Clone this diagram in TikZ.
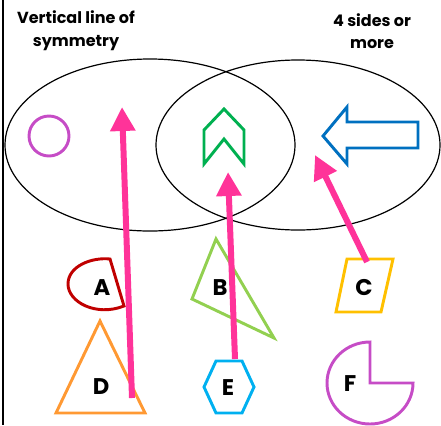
\documentclass[tikz,border=0pt]{standalone}
\usepackage{fontspec}
\usetikzlibrary{arrows.meta}
\newfontfamily\gothic{Poppins}
\definecolor{hotpink}{HTML}{FF3399}
\definecolor{violetF}{HTML}{C64CC6}
\definecolor{chevgreen}{HTML}{00B050}
\definecolor{arrblue}{HTML}{0070C0}
\definecolor{darkred}{HTML}{C00000}
\definecolor{lightgreen}{HTML}{92D050}
\definecolor{gold}{HTML}{FFC000}
\definecolor{orangeD}{HTML}{FF9933}
\definecolor{skyblue}{HTML}{00B0F0}
\begin{document}
\begin{tikzpicture}[x=0.75pt, y=-0.75pt,
  heading/.style={align=center, font=\gothic\bfseries\fontsize{12}{17}\selectfont},
  letter/.style={font=\gothic\bfseries\fontsize{17}{17}\selectfont},
  outline/.style={line width=2.2pt, line join=miter},
  pinkarrow/.style={hotpink, line width=4.5pt, -{Triangle[length=18pt, width=18pt]}}]

  \useasboundingbox (0,0) rectangle (441,425);
  \draw[line width=1.5pt] (3,0) -- (3,425);

  % the two sets
  \draw[line width=0.9pt] (150,145) ellipse [x radius=145, y radius=86];
  \draw[line width=0.9pt] (298,145) ellipse [x radius=142, y radius=85];

  \node[heading] (left) at (76,31) {Vertical line of\\symmetry};
  \node[heading] (right) at (372,31) {4 sides or\\more};

  % shapes already placed
  \draw[outline, violetF] (49,136) circle [radius=20];
  \draw[outline, chevgreen] (224,109) -- (244,130) -- (244,164) -- (224,139)
    -- (204,164) -- (204,130) -- cycle;
  \draw[outline, arrblue] (323,136) -- (347,107) -- (347,122) -- (418,122)
    -- (418,148) -- (347,148) -- (347,164) -- cycle;

  % shapes to sort
  \draw[outline, darkred] (110,259) -- (124,306)
    .. controls (96,317) and (68,302) .. (68,284)
    .. controls (68,266) and (92,257) .. cycle;
  \node[letter] (A) at (102,288) {A};

  \draw[outline, lightgreen] (216,239) -- (274,338) -- (192,299) -- cycle;
  \node[letter] (B) at (220,288) {B};

  \draw[outline, gold] (347,259) -- (393,259) -- (381,312) -- (336,312) -- cycle;
  \node[letter] (C) at (364,288) {C};

  \draw[outline, orangeD] (100,321) -- (145,413) -- (56,413) -- cycle;
  \node[letter] (D) at (101,387) {D};

  \draw[outline, skyblue] (204,387) -- (216,361) -- (242,361) -- (254,387)
    -- (242,413) -- (216,413) -- cycle;
  \node[letter] (E) at (228,388) {E};

  \draw[outline, violetF] (370,383) -- (370,342) arc [start angle=-90, end angle=-360,
    x radius=43, y radius=41] -- cycle;
  \node[letter] (F) at (350,384) {F};

  % sorting arrows
  \coordinate (fromD) at (132,398);
  \coordinate (toD) at (122,107);
  \coordinate (fromE) at (235,359);
  \coordinate (toE) at (228,172);
  \coordinate (fromC) at (367,262);
  \coordinate (toC) at (315,155);
  \draw[pinkarrow] (fromD) -- (toD);
  \draw[pinkarrow] (fromE) -- (toE);
  \draw[pinkarrow] (fromC) -- (toC);
\end{tikzpicture}
\end{document}
